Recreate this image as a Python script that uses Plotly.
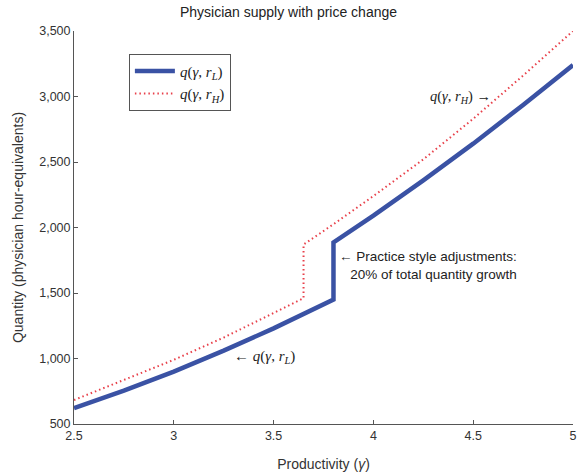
import plotly.graph_objects as go

# Productivity (gamma) and quantity values
gamma_L = [2.5, 2.75, 3.0, 3.25, 3.5, 3.8, 3.8, 4.0, 4.25, 4.5, 4.75, 5.0]
q_L = [622, 755, 900, 1060, 1230, 1450, 1886, 2090, 2360, 2640, 2935, 3240]

gamma_H = [2.5, 2.75, 3.0, 3.25, 3.5, 3.65, 3.65, 3.8, 4.0, 4.25, 4.5, 4.75, 5.0]
q_H = [683, 835, 990, 1160, 1345, 1460, 1870, 2025, 2240, 2520, 2830, 3160, 3500]

x_ticks = [2.5, 3, 3.5, 4, 4.5, 5]
x_tick_labels = ["2.5", "3", "3.5", "4", "4.5", "5"]
y_ticks = [500, 1000, 1500, 2000, 2500, 3000, 3500]
y_tick_labels = ["500", "1,000", "1,500", "2,000", "2,500", "3,000", "3,500"]

label_L = "<i>q</i>(<i>γ</i>, <i>r<sub>L</sub></i>)"
label_H = "<i>q</i>(<i>γ</i>, <i>r<sub>H</sub></i>)"

fig = go.Figure()
fig.add_trace(go.Scatter(x=gamma_L, y=q_L, mode="lines", name=label_L,
                         line=dict(color="#3a52a4", width=4.5)))
fig.add_trace(go.Scatter(x=gamma_H, y=q_H, mode="lines", name=label_H,
                         line=dict(color="#e8404a", width=2, dash="1.5px,3px")))

sans = "Liberation Sans, Arial, sans-serif"
serif = "Liberation Serif, Times New Roman, serif"

fig.add_annotation(x=4.6, y=3000, xref="x", yref="y", text=label_H + " →",
                   showarrow=False, xanchor="right", yanchor="middle",
                   font=dict(family=serif, size=14.5, color="#222"))
fig.add_annotation(x=3.29, y=1010, xref="x", yref="y", text="← " + label_L,
                   showarrow=False, xanchor="left", yanchor="middle",
                   font=dict(family=serif, size=15, color="#222"))
fig.add_annotation(x=3.82, y=1710, xref="x", yref="y",
                   text="← Practice style adjustments:<br>   20% of total quantity growth",
                   showarrow=False, xanchor="left", yanchor="middle", align="left",
                   font=dict(family=sans, size=13.5, color="#222"))

axis_common = dict(showline=True, linecolor="#555", linewidth=1, ticks="inside",
                   ticklen=4, tickcolor="#555", showgrid=False, zeroline=False,
                   automargin=False,
                   tickfont=dict(family=sans, size=12.5, color="#333"))

fig.update_layout(
    width=577, height=475,
    margin=dict(l=74, r=4, t=31, b=51),
    paper_bgcolor="white", plot_bgcolor="white",
    title=dict(text="Physician supply with price change", x=0.5, xanchor="center",
               y=0.975, yanchor="middle", font=dict(family=sans, size=14, color="#222")),
    xaxis=dict(range=[2.5, 5], tickvals=x_ticks, ticktext=x_tick_labels,
               title=dict(text="Productivity (<i>γ</i>)", standoff=17,
                          font=dict(family=sans, size=14, color="#333")),
               **axis_common),
    yaxis=dict(range=[500, 3500], tickvals=y_ticks, ticktext=y_tick_labels,
               title=dict(text="Quantity (physician hour-equivalents)", standoff=12,
                          font=dict(family=sans, size=14, color="#333")),
               **axis_common),
    legend=dict(x=0.11, y=0.942, xanchor="left", yanchor="top",
                bordercolor="#555", borderwidth=1, bgcolor="white",
                font=dict(family=serif, size=15, color="#222"),
                itemwidth=40, tracegroupgap=0),
    showlegend=True,
)

fig.write_html("out.html", config={"displayModeBar": False},
               post_script="document.body.style.margin='0';document.body.style.overflow='hidden';")
